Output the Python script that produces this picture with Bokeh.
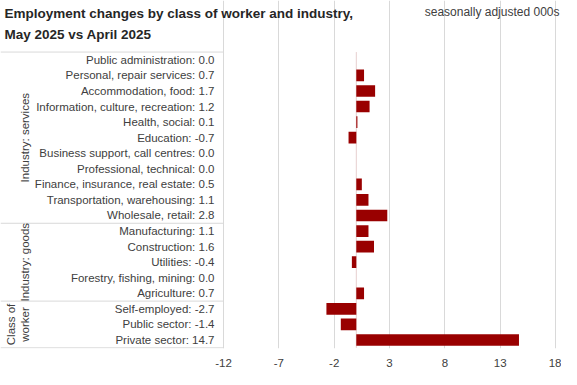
import math
from bokeh.plotting import figure
from bokeh.models import Range1d, FixedTicker
from bokeh.core.properties import value
from bokeh.embed import file_html
from bokeh.resources import INLINE

# ---------------- data ----------------
services = ["Public administration", "Personal, repair services", "Accommodation, food",
            "Information, culture, recreation", "Health, social", "Education",
            "Business support, call centres", "Professional, technical",
            "Finance, insurance, real estate", "Transportation, warehousing", "Wholesale, retail"]
services_values = [0.0, 0.7, 1.7, 1.2, 0.1, -0.7, 0.0, 0.0, 0.5, 1.1, 2.8]

goods = ["Manufacturing", "Construction", "Utilities", "Forestry, fishing, mining", "Agriculture"]
goods_values = [1.1, 1.6, -0.4, 0.0, 0.7]

worker_class = ["Self-employed", "Public sector", "Private sector"]
worker_class_values = [-2.7, -1.4, 14.7]

x_ticks = [-12, -7, -2, 3, 8, 13, 18]
x_tick_labels = ["-12", "-7", "-2", "3", "8", "13", "18"]

group_names = ["Industry: services", "Industry: goods"]
class_group_lines = ["Class of", "worker"]
title_lines = ["Employment changes by class of worker and industry,", "May 2025 vs April 2025"]
subtitle = "seasonally adjusted 000s"

# ---------------- layout (figure pixels) ----------------
FONT = "Liberation Sans"
W, H = 561, 369
FB = 18                      # bottom border holding the x axis labels
ROW = 15.7                   # row height in px
ROWS_TOP = 52                # y of the top of the first row
PLOT_LEFT, PLOT_RIGHT = 223, 555   # x of -12 and 18
LABEL_RIGHT = 214
k = (PLOT_RIGHT - PLOT_LEFT) / (x_ticks[-1] - x_ticks[0])

names = services + goods + worker_class
vals = services_values + goods_values + worker_class_values
labels = [f"{n}: {v:.1f}" for n, v in zip(names, vals)]
n_rows = len(labels)

frame_bottom = H - FB
rows_bottom = ROWS_TOP + n_rows * ROW
y_start = -(frame_bottom - rows_bottom) / ROW
y_end = n_rows + ROWS_TOP / ROW

x_start = x_ticks[0] - PLOT_LEFT / k
x_end = x_ticks[-1] + (W - PLOT_RIGHT) / k

def px_x(px):
    return x_start + px / k

def px_y(py):
    return n_rows + (ROWS_TOP - py) / ROW

row_y = [n_rows - i - 0.5 for i in range(n_rows)]

p = figure(width=W, height=H, title=None,
           x_range=Range1d(x_start, x_end), y_range=Range1d(y_start, y_end),
           output_backend="svg", toolbar_location=None, y_axis_location=None,
           min_border_left=0, min_border_right=0, min_border_top=0, min_border_bottom=FB)
p.outline_line_color = None
p.background_fill_color = "white"
p.border_fill_color = "white"

p.xaxis.ticker = FixedTicker(ticks=x_ticks)
p.xaxis.major_label_overrides = dict(zip(x_ticks, x_tick_labels))
p.xgrid.ticker = FixedTicker(ticks=x_ticks)
p.xgrid.grid_line_color = "#D9D9D9"
p.xgrid.bounds = (0, n_rows)
p.ygrid.visible = False
p.xaxis.axis_line_color = None
p.xaxis.major_tick_line_color = None
p.xaxis.minor_tick_line_color = None
p.xaxis.major_label_standoff = 4
p.xaxis.major_label_text_font = FONT
p.xaxis.major_label_text_font_size = "11.5px"
p.xaxis.major_label_text_color = "#404040"

# box around the category labels
n_c, n_g, n_s = len(worker_class), len(goods), len(services)
bounds = [0, n_c, n_c + n_g, n_c + n_g + n_s]
p.segment(x0=[x_start] * len(bounds), y0=bounds, x1=[x_ticks[0]] * len(bounds), y1=bounds,
          line_color="#D9D9D9", line_width=1)
p.segment(x0=[x_ticks[0]], y0=[0], x1=[x_ticks[0]], y1=[bounds[-1]], line_color="#D9D9D9", line_width=1)

# zero line
p.segment(x0=[0], y0=[0], x1=[0], y1=[n_rows], line_color="#E6CFCF", line_width=1)

p.hbar(y=row_y, left=0, right=vals, height=0.75, fill_color="#990000", line_color=None)

p.text(x=[px_x(LABEL_RIGHT)] * n_rows, y=row_y, text=labels, text_align="right",
       text_baseline="middle", text_font=value(FONT), text_font_size="11.5px", text_color="#404040")

p.text(x=[px_x(24), px_x(24)], y=[n_c + n_g + n_s / 2, n_c + n_g / 2],
       text=group_names, angle=math.pi / 2,
       text_align="center", text_baseline="middle", text_font=value(FONT),
       text_font_size="11.5px", text_color="#404040")
p.text(x=[px_x(10), px_x(24)], y=[n_c / 2, n_c / 2], text=class_group_lines, angle=math.pi / 2,
       text_align="center", text_baseline="middle", text_font=value(FONT),
       text_font_size="11.5px", text_color="#404040")

# titles
p.text(x=[px_x(4), px_x(4)], y=[px_y(13), px_y(34)], text=title_lines,
       text_align="left", text_baseline="middle", text_font=value(FONT),
       text_font_style="bold", text_font_size="13.5px", text_color="#262626")
p.text(x=[px_x(559)], y=[px_y(12)], text=[subtitle],
       text_align="right", text_baseline="middle", text_font=value(FONT),
       text_font_size="12px", text_color="#404040")

open("out.html", "w").write(file_html(p, INLINE))
